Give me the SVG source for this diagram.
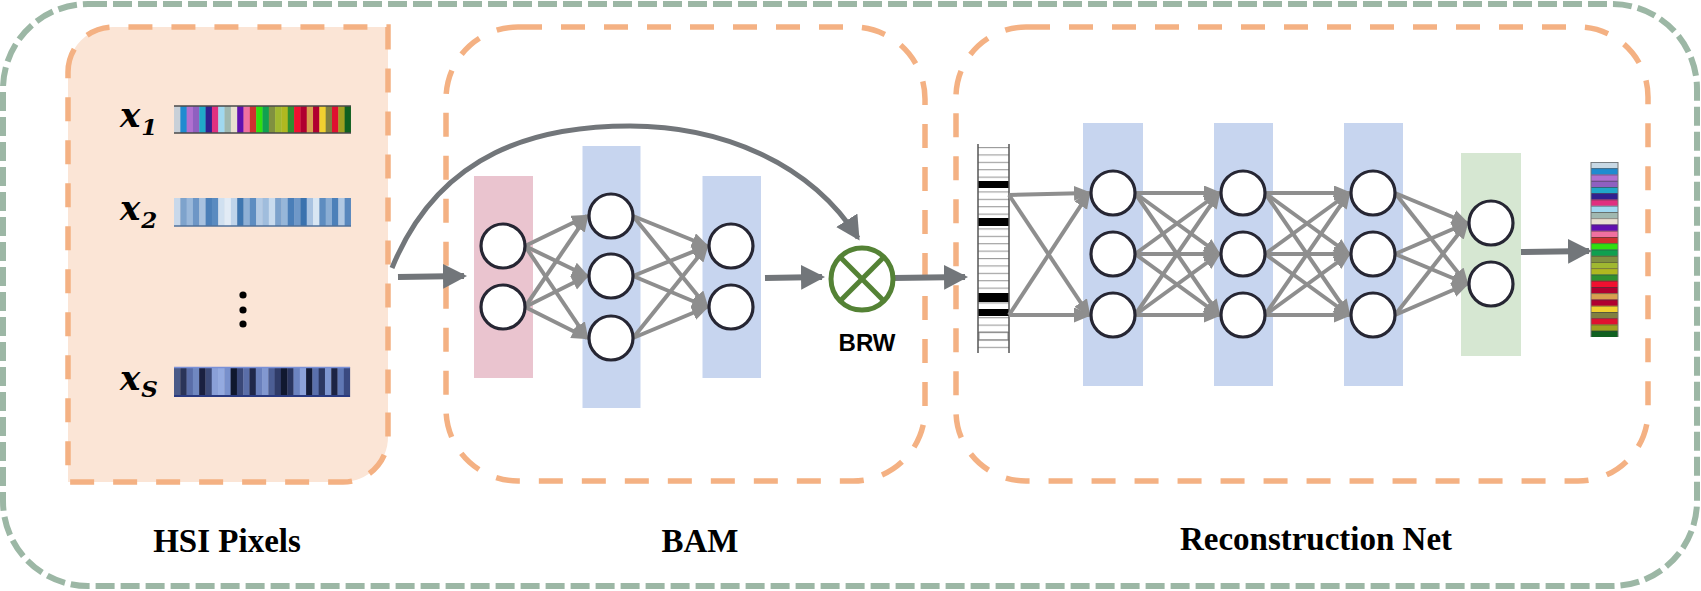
<svg xmlns="http://www.w3.org/2000/svg" width="1701" height="591" viewBox="0 0 1701 591">
<style>
.frame{fill:none;stroke:#f4b183;stroke-width:5.5;stroke-dasharray:24 19}
.node{fill:#ffffff;stroke:#262633;stroke-width:3.2}
.thin{stroke:#8e8e8e;stroke-width:4;fill:none;marker-end:url(#ah)}
.thick{stroke:#72767a;stroke-width:6;fill:none;marker-end:url(#ahd)}
.lbl{font-family:"Liberation Serif","Times New Roman",serif;font-weight:bold;font-size:33px;fill:#000;text-anchor:middle}
.xv{font-family:"DejaVu Serif","Liberation Serif",serif;font-weight:bold;font-style:italic;font-size:34px;fill:#000}
.sub{font-family:"DejaVu Serif","Liberation Serif",serif;font-weight:bold;font-size:23px}
.blue{fill:#c7d5ef}
</style>
<defs>
<marker id="ah" markerUnits="userSpaceOnUse" markerWidth="20" markerHeight="16" refX="15" refY="7.5" orient="auto">
<path d="M0,0 L18,7.5 L0,15 Z" fill="#8e8e8e"/>
</marker>
<marker id="ahd" markerUnits="userSpaceOnUse" markerWidth="26" markerHeight="26" refX="21" refY="12.5" orient="auto">
<path d="M0,0 L24,12.5 L0,25 Z" fill="#72767a"/>
</marker>
<pattern id="sep" patternUnits="userSpaceOnUse" x="1591" y="162" width="27" height="6.25">
<rect x="0" y="0" width="27" height="0.9" fill="#3a3a3a" fill-opacity="0.6"/>
</pattern>
<pattern id="hl" patternUnits="userSpaceOnUse" x="978" y="147" width="31" height="7.4">
<rect x="0" y="0" width="31" height="1.1" fill="#9a9a9a"/>
</pattern>
</defs>

<!-- outer frame -->
<rect x="3" y="4" width="1694" height="582" rx="85" ry="85" fill="none" stroke="#9cb7a5" stroke-width="6" stroke-dasharray="19 6"/>

<!-- HSI pixels -->
<g id="hsi">
<path d="M68,72 A45,45 0 0 1 113,27 H388 V437 A45,45 0 0 1 343,482 H68 Z" fill="#fbe5d6" stroke="#f4b183" stroke-width="5.5" stroke-dasharray="24 19"/>
<text class="xv" x="120" y="127">x<tspan class="sub" dx="1" dy="8">1</tspan></text>
<text class="xv" x="120" y="220">x<tspan class="sub" dx="1" dy="8">2</tspan></text>
<text class="xv" x="120" y="390">x<tspan class="sub" dx="1" dy="7" font-style="italic">S</tspan></text>
<g transform="translate(174,106) scale(6.32,1)">
<rect x="0" width="1.05" height="27" fill="#c8d0d8"/>
<rect x="1" width="1.05" height="27" fill="#1f8bd0"/>
<rect x="2" width="1.05" height="27" fill="#b070d0"/>
<rect x="3" width="1.05" height="27" fill="#8f60c0"/>
<rect x="4" width="1.05" height="27" fill="#20a8c8"/>
<rect x="5" width="1.05" height="27" fill="#302090"/>
<rect x="6" width="1.05" height="27" fill="#e03080"/>
<rect x="7" width="1.05" height="27" fill="#a0d8f0"/>
<rect x="8" width="1.05" height="27" fill="#a0b8b0"/>
<rect x="9" width="1.05" height="27" fill="#e8e0d0"/>
<rect x="10" width="1.05" height="27" fill="#6010b0"/>
<rect x="11" width="1.05" height="27" fill="#f070a0"/>
<rect x="12" width="1.05" height="27" fill="#d03030"/>
<rect x="13" width="1.05" height="27" fill="#30e010"/>
<rect x="14" width="1.05" height="27" fill="#10a050"/>
<rect x="15" width="1.05" height="27" fill="#809040"/>
<rect x="16" width="1.05" height="27" fill="#a0b830"/>
<rect x="17" width="1.05" height="27" fill="#b0b820"/>
<rect x="18" width="1.05" height="27" fill="#309030"/>
<rect x="19" width="1.05" height="27" fill="#f01030"/>
<rect x="20" width="1.05" height="27" fill="#b00030"/>
<rect x="21" width="1.05" height="27" fill="#d8a050"/>
<rect x="22" width="1.05" height="27" fill="#b00030"/>
<rect x="23" width="1.05" height="27" fill="#f0d030"/>
<rect x="24" width="1.05" height="27" fill="#808040"/>
<rect x="25" width="1.05" height="27" fill="#e01030"/>
<rect x="26" width="1.05" height="27" fill="#a0a020"/>
<rect x="27" width="1" height="27" fill="#106020"/>
</g>
<line x1="174" y1="106" x2="351" y2="106" stroke="#4a4a4a" stroke-width="1.5"/>
<line x1="174" y1="133" x2="351" y2="133" stroke="#4a4a4a" stroke-width="1.5"/>
<g transform="translate(174,198) scale(6.32,1)">
<rect x="0" width="1.05" height="28" fill="#c8d8ea"/>
<rect x="1" width="1.05" height="28" fill="#7ea3cc"/>
<rect x="2" width="1.05" height="28" fill="#9ab8da"/>
<rect x="3" width="1.05" height="28" fill="#6d96c6"/>
<rect x="4" width="1.05" height="28" fill="#a8c2e0"/>
<rect x="5" width="1.05" height="28" fill="#4b7fb8"/>
<rect x="6" width="1.05" height="28" fill="#5a8bc0"/>
<rect x="7" width="1.05" height="28" fill="#d0e0f0"/>
<rect x="8" width="1.05" height="28" fill="#e2ebf5"/>
<rect x="9" width="1.05" height="28" fill="#c0d4ea"/>
<rect x="10" width="1.05" height="28" fill="#3f76b0"/>
<rect x="11" width="1.05" height="28" fill="#8fb0d6"/>
<rect x="12" width="1.05" height="28" fill="#5e8dc1"/>
<rect x="13" width="1.05" height="28" fill="#b4cbe5"/>
<rect x="14" width="1.05" height="28" fill="#a0bddd"/>
<rect x="15" width="1.05" height="28" fill="#c9dbee"/>
<rect x="16" width="1.05" height="28" fill="#7da2cc"/>
<rect x="17" width="1.05" height="28" fill="#96b6d9"/>
<rect x="18" width="1.05" height="28" fill="#4a7eb8"/>
<rect x="19" width="1.05" height="28" fill="#6f98c8"/>
<rect x="20" width="1.05" height="28" fill="#3a72ae"/>
<rect x="21" width="1.05" height="28" fill="#a9c3e1"/>
<rect x="22" width="1.05" height="28" fill="#d8e6f3"/>
<rect x="23" width="1.05" height="28" fill="#5d8cc0"/>
<rect x="24" width="1.05" height="28" fill="#8aadd4"/>
<rect x="25" width="1.05" height="28" fill="#4c80b9"/>
<rect x="26" width="1.05" height="28" fill="#b0c8e3"/>
<rect x="27" width="1" height="28" fill="#5887bd"/>
</g>
<line x1="174" y1="226" x2="351" y2="226" stroke="#50709a" stroke-width="1.5"/>
<g transform="translate(174,367) scale(6.29,1)">
<rect x="0" width="1.05" height="30" fill="#4a5a88"/>
<rect x="1" width="1.05" height="30" fill="#2a3458"/>
<rect x="2" width="1.05" height="30" fill="#5a6ea8"/>
<rect x="3" width="1.05" height="30" fill="#7088c0"/>
<rect x="4" width="1.05" height="30" fill="#1a2040"/>
<rect x="5" width="1.05" height="30" fill="#3c4a78"/>
<rect x="6" width="1.05" height="30" fill="#8aa0d8"/>
<rect x="7" width="1.05" height="30" fill="#94aae0"/>
<rect x="8" width="1.05" height="30" fill="#7890cc"/>
<rect x="9" width="1.05" height="30" fill="#10182e"/>
<rect x="10" width="1.05" height="30" fill="#3a4878"/>
<rect x="11" width="1.05" height="30" fill="#5a6ea8"/>
<rect x="12" width="1.05" height="30" fill="#20284a"/>
<rect x="13" width="1.05" height="30" fill="#6a80bc"/>
<rect x="14" width="1.05" height="30" fill="#8298d0"/>
<rect x="15" width="1.05" height="30" fill="#4c5e94"/>
<rect x="16" width="1.05" height="30" fill="#303c68"/>
<rect x="17" width="1.05" height="30" fill="#101830"/>
<rect x="18" width="1.05" height="30" fill="#2a3660"/>
<rect x="19" width="1.05" height="30" fill="#6c84c0"/>
<rect x="20" width="1.05" height="30" fill="#8ca2da"/>
<rect x="21" width="1.05" height="30" fill="#141c38"/>
<rect x="22" width="1.05" height="30" fill="#5a70ac"/>
<rect x="23" width="1.05" height="30" fill="#2c3862"/>
<rect x="24" width="1.05" height="30" fill="#7e96d0"/>
<rect x="25" width="1.05" height="30" fill="#1c2444"/>
<rect x="26" width="1.05" height="30" fill="#6078b4"/>
<rect x="27" width="1" height="30" fill="#3a4a80"/>
</g>
<line x1="174" y1="367.5" x2="350" y2="367.5" stroke="#7a90d8" stroke-width="1.5"/>
<line x1="174" y1="396" x2="350" y2="396" stroke="#2a3a80" stroke-width="2"/>
<circle cx="243" cy="295" r="3.6" fill="#000"/>
<circle cx="243" cy="310" r="3.6" fill="#000"/>
<circle cx="243" cy="324" r="3.6" fill="#000"/>
<text class="lbl" x="227" y="552">HSI Pixels</text>
</g>

<!-- BAM -->
<g id="bam">
<rect class="frame" x="446" y="27" width="479" height="454" rx="72" ry="72"/>
<rect x="474" y="176" width="59" height="202" fill="#eac4cf"/>
<rect class="blue" x="582.5" y="146" width="58" height="262"/>
<rect class="blue" x="702.5" y="176" width="58.5" height="202"/>
<text class="lbl" x="700" y="552">BAM</text>
</g>

<!-- Reconstruction Net -->
<g id="recon">
<rect class="frame" x="956" y="27" width="692" height="454" rx="70" ry="70"/>
<rect class="blue" x="1083" y="123" width="60" height="263"/>
<rect class="blue" x="1214" y="123" width="59" height="263"/>
<rect class="blue" x="1344" y="123" width="59" height="263"/>
<rect x="1461" y="153" width="60" height="203" fill="#d6e7d2"/>
<text class="lbl" x="1316" y="550">Reconstruction Net</text>
</g>

<!-- input code bar -->
<g id="codebar">
<rect x="978" y="144" width="31" height="209" fill="#ffffff"/>
<rect x="978" y="147" width="31" height="204" fill="url(#hl)"/>
<rect x="978" y="181" width="31" height="7" fill="#000"/>
<rect x="978" y="218" width="31" height="8" fill="#000"/>
<rect x="978" y="293" width="31" height="9" fill="#000"/>
<rect x="978" y="309" width="31" height="7" fill="#000"/>
<rect x="979" y="332" width="29" height="8" fill="none" stroke="#888" stroke-width="1"/>
<line x1="978" y1="144" x2="978" y2="353" stroke="#555" stroke-width="1.5"/>
<line x1="1009" y1="144" x2="1009" y2="353" stroke="#555" stroke-width="1.5"/>
</g>

<!-- output spectrum bar -->
<g id="outbar">
<g transform="translate(1591,162) scale(1,6.25)">
<rect y="0" width="27" height="1.05" fill="#c8d8e4"/>
<rect y="1" width="27" height="1.05" fill="#1f8bd0"/>
<rect y="2" width="27" height="1.05" fill="#b070d0"/>
<rect y="3" width="27" height="1.05" fill="#8f60c0"/>
<rect y="4" width="27" height="1.05" fill="#20a8c8"/>
<rect y="5" width="27" height="1.05" fill="#302090"/>
<rect y="6" width="27" height="1.05" fill="#e03080"/>
<rect y="7" width="27" height="1.05" fill="#a0d8f0"/>
<rect y="8" width="27" height="1.05" fill="#a0b8b0"/>
<rect y="9" width="27" height="1.05" fill="#e8e0d0"/>
<rect y="10" width="27" height="1.05" fill="#6010b0"/>
<rect y="11" width="27" height="1.05" fill="#f070a0"/>
<rect y="12" width="27" height="1.05" fill="#d03030"/>
<rect y="13" width="27" height="1.05" fill="#30e010"/>
<rect y="14" width="27" height="1.05" fill="#10a050"/>
<rect y="15" width="27" height="1.05" fill="#809040"/>
<rect y="16" width="27" height="1.05" fill="#a0b830"/>
<rect y="17" width="27" height="1.05" fill="#b0b820"/>
<rect y="18" width="27" height="1.05" fill="#309030"/>
<rect y="19" width="27" height="1.05" fill="#f01030"/>
<rect y="20" width="27" height="1.05" fill="#b00030"/>
<rect y="21" width="27" height="1.05" fill="#d8a050"/>
<rect y="22" width="27" height="1.05" fill="#b00030"/>
<rect y="23" width="27" height="1.05" fill="#f0d030"/>
<rect y="24" width="27" height="1.05" fill="#808040"/>
<rect y="25" width="27" height="1.05" fill="#e01030"/>
<rect y="26" width="27" height="1.05" fill="#a0a020"/>
<rect y="27" width="27" height="1" fill="#106020"/>
</g>
<rect x="1591" y="162" width="27" height="175" fill="url(#sep)"/>
<line x1="1591" y1="162" x2="1591" y2="337" stroke="#777" stroke-width="1"/>
<line x1="1618" y1="162" x2="1618" y2="337" stroke="#777" stroke-width="1"/>
</g>

<!-- connectors -->
<g id="connectors">
<path d="M392,268 C440,150 540,126 630,126 C720,126 810,162 858,238" stroke="#72767a" stroke-width="5" fill="none" marker-end="url(#ahd)"/>
<line class="thick" x1="398" y1="277" x2="464" y2="276"/>
<line class="thick" x1="765" y1="278" x2="822" y2="277"/>
<line class="thick" x1="893" y1="278" x2="965" y2="277"/>
<line class="thick" x1="1521" y1="252" x2="1589" y2="251"/>
<!-- BAM L1 to L2 -->
<line class="thin" x1="525" y1="246" x2="587" y2="216"/>
<line class="thin" x1="525" y1="246" x2="587" y2="276"/>
<line class="thin" x1="525" y1="246" x2="587" y2="338"/>
<line class="thin" x1="525" y1="307" x2="587" y2="216"/>
<line class="thin" x1="525" y1="307" x2="587" y2="276"/>
<line class="thin" x1="525" y1="307" x2="587" y2="338"/>
<!-- BAM L2 to L3 -->
<line class="thin" x1="633" y1="216" x2="707" y2="246"/>
<line class="thin" x1="633" y1="216" x2="707" y2="307"/>
<line class="thin" x1="633" y1="276" x2="707" y2="246"/>
<line class="thin" x1="633" y1="276" x2="707" y2="307"/>
<line class="thin" x1="633" y1="338" x2="707" y2="246"/>
<line class="thin" x1="633" y1="338" x2="707" y2="307"/>
<!-- Recon input -->
<line class="thin" x1="1009" y1="195" x2="1089" y2="193"/>
<line class="thin" x1="1009" y1="195" x2="1089" y2="315"/>
<line class="thin" x1="1009" y1="315" x2="1089" y2="193"/>
<line class="thin" x1="1009" y1="315" x2="1089" y2="315"/>
<!-- Recon L1 to L2 -->
<line class="thin" x1="1135" y1="193" x2="1219" y2="193"/>
<line class="thin" x1="1135" y1="193" x2="1219" y2="254"/>
<line class="thin" x1="1135" y1="193" x2="1219" y2="315"/>
<line class="thin" x1="1135" y1="254" x2="1219" y2="193"/>
<line class="thin" x1="1135" y1="254" x2="1219" y2="254"/>
<line class="thin" x1="1135" y1="254" x2="1219" y2="315"/>
<line class="thin" x1="1135" y1="315" x2="1219" y2="193"/>
<line class="thin" x1="1135" y1="315" x2="1219" y2="254"/>
<line class="thin" x1="1135" y1="315" x2="1219" y2="315"/>
<!-- Recon L2 to L3 -->
<line class="thin" x1="1265" y1="193" x2="1349" y2="193"/>
<line class="thin" x1="1265" y1="193" x2="1349" y2="254"/>
<line class="thin" x1="1265" y1="193" x2="1349" y2="315"/>
<line class="thin" x1="1265" y1="254" x2="1349" y2="193"/>
<line class="thin" x1="1265" y1="254" x2="1349" y2="254"/>
<line class="thin" x1="1265" y1="254" x2="1349" y2="315"/>
<line class="thin" x1="1265" y1="315" x2="1349" y2="193"/>
<line class="thin" x1="1265" y1="315" x2="1349" y2="254"/>
<line class="thin" x1="1265" y1="315" x2="1349" y2="315"/>
<!-- Recon L3 to output layer -->
<line class="thin" x1="1395" y1="193" x2="1467" y2="223"/>
<line class="thin" x1="1395" y1="193" x2="1467" y2="284"/>
<line class="thin" x1="1395" y1="254" x2="1467" y2="223"/>
<line class="thin" x1="1395" y1="254" x2="1467" y2="284"/>
<line class="thin" x1="1395" y1="315" x2="1467" y2="223"/>
<line class="thin" x1="1395" y1="315" x2="1467" y2="284"/>
</g>

<!-- nodes -->
<g id="bam-nodes">
<circle class="node" cx="503" cy="246" r="22"/>
<circle class="node" cx="503" cy="307" r="22"/>
<circle class="node" cx="611" cy="216" r="22"/>
<circle class="node" cx="611" cy="276" r="22"/>
<circle class="node" cx="611" cy="338" r="22"/>
<circle class="node" cx="731" cy="246" r="22"/>
<circle class="node" cx="731" cy="307" r="22"/>
</g>
<g id="brw">
<circle cx="862" cy="279" r="31" fill="#ffffff" stroke="#548235" stroke-width="5"/>
<line x1="840.1" y1="257.1" x2="883.9" y2="300.9" stroke="#548235" stroke-width="5"/>
<line x1="883.9" y1="257.1" x2="840.1" y2="300.9" stroke="#548235" stroke-width="5"/>
<text x="867" y="351" font-family="Liberation Sans, Arial, sans-serif" font-weight="bold" font-size="24" text-anchor="middle">BRW</text>
</g>
<g id="recon-nodes">
<circle class="node" cx="1113" cy="193" r="22"/>
<circle class="node" cx="1113" cy="254" r="22"/>
<circle class="node" cx="1113" cy="315" r="22"/>
<circle class="node" cx="1243" cy="193" r="22"/>
<circle class="node" cx="1243" cy="254" r="22"/>
<circle class="node" cx="1243" cy="315" r="22"/>
<circle class="node" cx="1373" cy="193" r="22"/>
<circle class="node" cx="1373" cy="254" r="22"/>
<circle class="node" cx="1373" cy="315" r="22"/>
<circle class="node" cx="1491" cy="223" r="22"/>
<circle class="node" cx="1491" cy="284" r="22"/>
</g>
</svg>
